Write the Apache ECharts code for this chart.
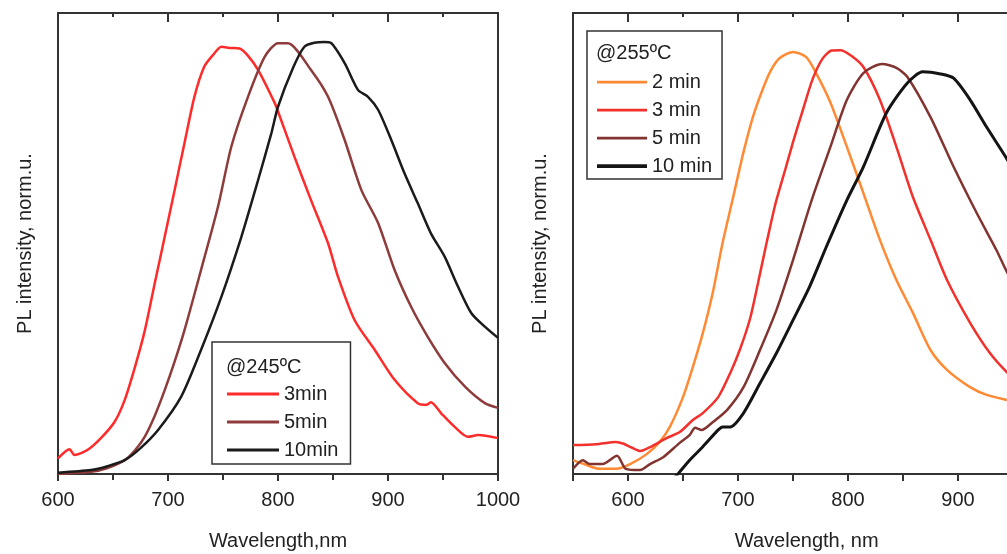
<!DOCTYPE html>
<html>
<head>
<meta charset="utf-8">
<script src="https://cdn.jsdelivr.net/npm/echarts@6/dist/echarts.min.js"></script>
<style>
html,body{margin:0;padding:0;background:#fff;overflow:hidden;}
#c{width:1007px;height:554px;}
</style>
</head>
<body>
<div id="c"></div>
<script>
// ---- Left panel (@245ºC): [wavelength nm, normalized PL] ----
const s245_3min = [[600,0.036],[610.6,0.057],[615,0.044],[627,0.056],[639,0.083],[651.5,0.121],[660.6,0.171],[670,0.248],[679,0.333],[688,0.442],[697,0.549],[706,0.657],[715,0.766],[724,0.873],[733,0.943],[741,0.970],[748.5,0.989],[757,0.986],[765,0.985],[772,0.970],[782,0.935],[797,0.859],[800,0.839],[815,0.734],[830,0.634],[845.5,0.534],[854.5,0.457],[869.7,0.356],[888,0.287],[906,0.218],[927,0.164],[935,0.160],[939,0.166],[948.5,0.140],[960.6,0.109],[972.7,0.086],[982,0.090],[1000,0.083]];
const s245_5min = [[600,0.0],[630,0.005],[645,0.014],[660.6,0.032],[670,0.055],[678.8,0.086],[688,0.135],[697,0.194],[706,0.260],[715,0.333],[730,0.472],[745.5,0.619],[757.6,0.758],[772.7,0.873],[788,0.966],[800,0.997],[809,0.997],[830,0.935],[845.5,0.873],[860.6,0.773],[875.8,0.657],[891,0.581],[906,0.472],[921,0.387],[936,0.318],[951.5,0.257],[970,0.202],[988,0.164],[1000,0.153]];
const s245_10min = [[600,0.003],[630,0.009],[645,0.018],[660.6,0.032],[675,0.060],[691,0.102],[712,0.179],[730,0.287],[748.5,0.410],[766.7,0.549],[782,0.681],[794,0.789],[800,0.850],[814,0.942],[824,0.989],[833,0.998],[842,1.0],[848,0.998],[860.6,0.951],[872.7,0.889],[881.8,0.873],[891,0.843],[903,0.773],[915,0.696],[927,0.627],[939,0.557],[951.5,0.503],[963.6,0.434],[975.8,0.372],[988,0.341],[1000,0.315]];

// ---- Right panel (@255ºC) ----
const s255_2min = [[550,0.032],[562,0.021],[574,0.012],[589,0.012],[602,0.023],[617,0.046],[629,0.075],[638,0.109],[650,0.178],[659,0.248],[668,0.326],[677,0.419],[686,0.535],[695,0.634],[705,0.745],[714,0.830],[723,0.894],[730,0.935],[738,0.963],[750,0.977],[762,0.965],[771,0.928],[784,0.860],[799,0.757],[814,0.650],[829,0.542],[844,0.449],[859,0.373],[875,0.287],[890,0.241],[911,0.201],[926,0.183],[945,0.171],[960,0.163],[975,0.157]];
const s255_3min = [[550,0.067],[571,0.069],[589,0.074],[596,0.070],[602,0.063],[611,0.053],[620,0.062],[635,0.083],[647,0.097],[659,0.125],[668,0.141],[682,0.178],[693,0.234],[702,0.290],[711,0.360],[718,0.440],[726,0.535],[734,0.625],[743,0.705],[750,0.768],[759,0.843],[768,0.915],[777,0.962],[785,0.980],[793,0.981],[803,0.968],[814,0.942],[829,0.866],[844,0.757],[859,0.641],[875,0.542],[890,0.449],[911,0.350],[929,0.280],[945,0.234],[960,0.200],[975,0.170]];
const s255_5min = [[550,0.012],[559,0.032],[565,0.023],[577,0.023],[590,0.042],[598,0.012],[611,0.009],[620,0.023],[632,0.039],[647,0.072],[656,0.090],[661,0.107],[667,0.102],[677,0.120],[690,0.148],[705,0.201],[720,0.287],[735,0.380],[750,0.495],[767,0.634],[784,0.757],[799,0.866],[814,0.928],[831,0.949],[844,0.940],[854,0.919],[875,0.826],[896,0.711],[917,0.604],[935,0.518],[945,0.465],[960,0.400],[975,0.350]];
const s255_10min = [[620,-0.07],[635,-0.03],[646,0.002],[656,0.032],[668,0.063],[682,0.102],[686,0.109],[693,0.109],[705,0.141],[720,0.210],[735,0.280],[750,0.356],[765,0.433],[781,0.530],[799,0.634],[814,0.711],[835,0.836],[854,0.905],[868,0.931],[884,0.926],[896,0.916],[911,0.866],[926,0.803],[945,0.727],[960,0.660],[975,0.590]];

const namesLeft = ['3min','5min','10min'];
const namesRight = ['2 min','3 min','5 min','10 min'];
const titleLeft = '@245ºC';
const titleRight = '@255ºC';
const xName = ['Wavelength,nm','Wavelength, nm'];
const yName = 'PL intensity, norm.u.';

const FONT = '"Liberation Sans", Arial, sans-serif';
const TXT = '#222';
const AX = '#333';
const THIN = 'path://M0 0H100V5.5H0Z';
const THICK = 'path://M0 0H100V7.5H0Z';

function bottomX(gi, min, max, interval, name, minor){
  return {
    gridIndex: gi, type:'value', position:'bottom', min:min, max:max, interval:interval,
    name:name, nameLocation:'middle', nameGap:57,
    nameTextStyle:{fontSize:20, color:TXT, fontFamily:FONT},
    axisLine:{show:true, onZero:false, lineStyle:{color:AX, width:2}},
    axisTick:{show:true, inside:false, length:7, lineStyle:{color:AX, width:2}},
    minorTick: minor ? {show:true, splitNumber:2, length:6, lineStyle:{color:AX, width:2}} : {show:false},
    axisLabel:{show:true, fontSize:20, color:TXT, fontFamily:FONT, margin:16,
      formatter: v => (v % 100 === 0 ? String(v) : '')},
    splitLine:{show:false}
  };
}
function topX(gi, min, max, interval, len, minor, custom){
  const t = {show:true, inside:true, length:len, lineStyle:{color:AX, width:2}};
  if (custom) t.customValues = custom;
  return {
    gridIndex: gi, type:'value', position:'top', min:min, max:max, interval:interval,
    axisLine:{show:true, onZero:false, lineStyle:{color:AX, width:2}},
    axisTick:t,
    minorTick: minor ? {show:true, splitNumber:2, length:4, lineStyle:{color:AX, width:2}} : {show:false},
    axisLabel:{show:false}, splitLine:{show:false}
  };
}
function yAx(gi, pos, named){
  const a = {
    gridIndex: gi, type:'value', position:pos, min:0, max:1.067,
    axisLine:{show:true, onZero:false, lineStyle:{color:AX, width:2}},
    axisTick:{show:false}, axisLabel:{show:false}, splitLine:{show:false}
  };
  if (named){
    a.name = yName; a.nameLocation = 'middle'; a.nameGap = 23;
    a.nameTextStyle = {fontSize:20, color:TXT, fontFamily:FONT};
  }
  return a;
}
function line(name, data, color, xi, yi, w){
  return {
    name:name, type:'line', data:data, xAxisIndex:xi, yAxisIndex:yi,
    symbol:'none', smooth:0.25, clip:true,
    lineStyle:{color:color, width:w||2.5}, itemStyle:{color:color}
  };
}
function legendData(names, thickLast){
  return names.map((n,i) => ({name:n, icon:(thickLast && i === names.length-1) ? THICK : THIN}));
}

const chart = echarts.init(document.getElementById('c'));
chart.setOption({
  animation:false,
  backgroundColor:'#fff',
  textStyle:{fontFamily:FONT},
  grid:[
    {left:58, top:13, width:440, height:461, containLabel:false, outerBoundsMode:'none'},
    {left:573, top:13, width:467.5, height:461, containLabel:false, outerBoundsMode:'none'}
  ],
  xAxis:[
    bottomX(0, 600, 1000, 100, xName[0], true),
    topX(0, 600, 1000, 100, 9, true, null),
    bottomX(1, 550, 975, 50, xName[1], false),
    topX(1, 550, 975, 50, 4, false, null),
    topX(1, 550, 975, 50, 9, false, [600,700,800,900])
  ],
  yAxis:[
    yAx(0,'left',true), yAx(0,'right',false),
    yAx(1,'left',true), yAx(1,'right',false)
  ],
  title:[
    {text:titleLeft, left:226, top:357, padding:0, textStyle:{fontSize:20, fontWeight:'normal', color:TXT, fontFamily:FONT}},
    {text:titleRight, left:596, top:43, padding:0, textStyle:{fontSize:20, fontWeight:'normal', color:TXT, fontFamily:FONT}}
  ],
  legend:[
    {data:legendData(namesLeft,false), orient:'vertical', left:212, top:342, itemWidth:52, itemHeight:20, itemGap:8,
     padding:[42,12,4,15], borderColor:AX, borderWidth:1.5, symbolKeepAspect:true,
     textStyle:{fontSize:20, color:TXT, fontFamily:FONT}},
    {data:legendData(namesRight,true), orient:'vertical', left:587, top:31, itemWidth:50, itemHeight:20, itemGap:8,
     padding:[41,10,3,10], borderColor:AX, borderWidth:1.5, symbolKeepAspect:true,
     textStyle:{fontSize:20, color:TXT, fontFamily:FONT}}
  ],
  series:[
    line(namesLeft[0], s245_3min, '#ff2b2b', 0, 0),
    line(namesLeft[1], s245_5min, '#8e3b3b', 0, 0),
    line(namesLeft[2], s245_10min, '#1b1b1b', 0, 0),
    line(namesRight[0], s255_2min, '#ff8a33', 2, 2),
    line(namesRight[1], s255_3min, '#f2302c', 2, 2),
    line(namesRight[2], s255_5min, '#823431', 2, 2),
    line(namesRight[3], s255_10min, '#141414', 2, 2, 3)
  ]
});
</script>
</body>
</html>
